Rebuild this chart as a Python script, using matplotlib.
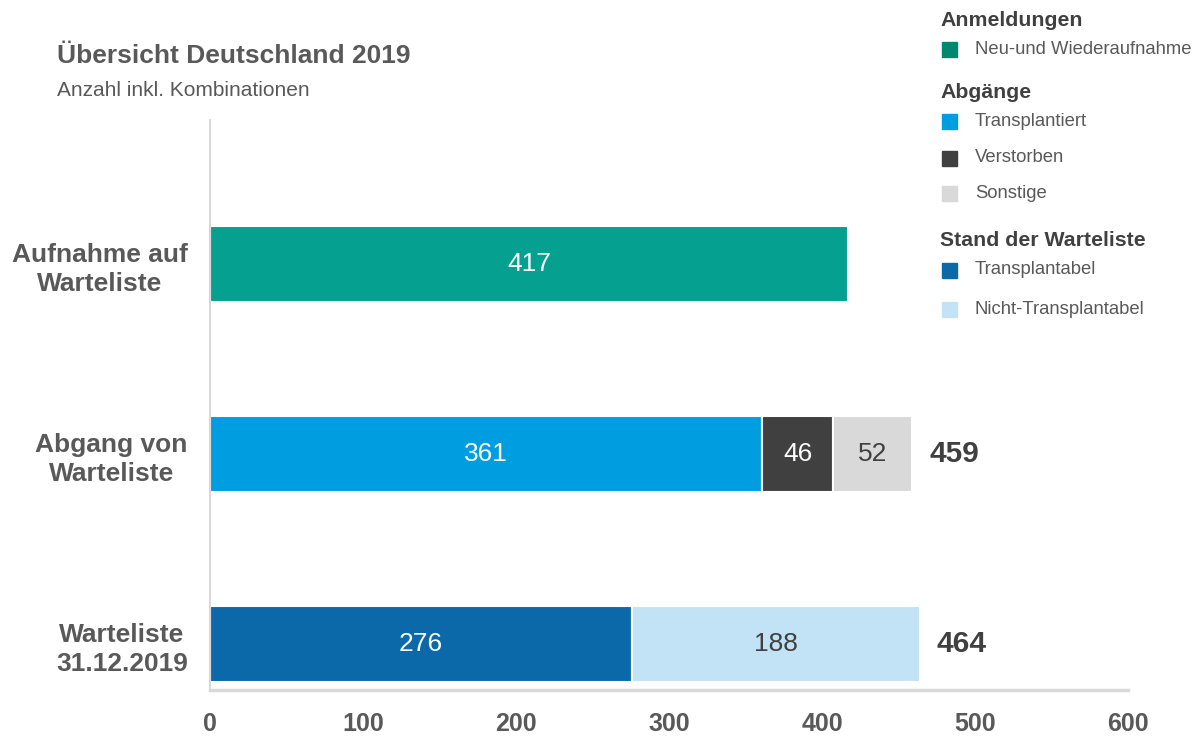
import matplotlib.pyplot as plt
from matplotlib.patches import Rectangle

plt.rcParams['font.family'] = ['Liberation Sans', 'DejaVu Sans']

# Data
categories = ['Aufnahme auf\nWarteliste', 'Abgang von\nWarteliste', 'Warteliste\n31.12.2019']
segments = [
    [417],
    [361, 46, 52],
    [276, 188],
]
seg_colors = [
    ['#06A091'],
    ['#009EE0', '#404040', '#D9D9D9'],
    ['#0B69AA', '#C2E2F5'],
]
label_colors = [
    ['white'],
    ['white', 'white', '#404040'],
    ['white', '#404040'],
]
totals = [None, 459, 464]
x_ticks = [0, 100, 200, 300, 400, 500, 600]

legend_groups = [
    ('Anmeldungen', [('Neu-und Wiederaufnahme', '#00876F')]),
    ('Abgänge', [('Transplantiert', '#009EE0'), ('Verstorben', '#404040'),
                 ('Sonstige', '#D9D9D9')]),
    ('Stand der Warteliste', [('Transplantabel', '#0B69AA'),
                              ('Nicht-Transplantabel', '#C2E2F5')]),
]

txt = '#595959'
W, H = 1200, 736
fig = plt.figure(figsize=(12, 7.36), dpi=100)
ax = fig.add_axes([210 / W, 46 / H, 918 / W, 570 / H])

for i, (vals, cols, lcols) in enumerate(zip(segments, seg_colors, label_colors)):
    left = 0
    for v, c, lc in zip(vals, cols, lcols):
        ax.barh(i, v, left=left, height=0.4, color=c, edgecolor='white', linewidth=1.5)
        ax.text(left + v / 2, i, str(v), ha='center', va='center', color=lc, fontsize=19)
        left += v
    if totals[i] is not None:
        ax.text(left + 11, i, str(totals[i]), ha='left', va='center',
                color='#404040', fontsize=21.5, fontweight='bold')

ax.set_xlim(0, 600)
ax.set_ylim(2.242, -0.758)
ax.set_xticks(x_ticks)
ax.set_xticklabels([str(t) for t in x_ticks], fontsize=18, fontweight='bold', color=txt)
ax.set_yticks(range(len(categories)))
ax.set_yticklabels(categories, fontsize=19, fontweight='bold', color=txt,
                   linespacing=1.3, multialignment='center')
ax.tick_params(axis='y', length=0, pad=16)
ax.tick_params(axis='x', length=0, pad=16)
for s in ['top', 'right']:
    ax.spines[s].set_visible(False)
ax.spines['left'].set_color('#D9D9D9')
ax.spines['bottom'].set_color('#D9D9D9')
ax.spines['left'].set_linewidth(1.5)
ax.spines['bottom'].set_linewidth(2.5)

# Title
fig.text(57 / W, 1 - 56 / H, 'Übersicht Deutschland 2019', fontsize=19, fontweight='bold',
         color=txt, va='center', ha='left')
fig.text(57 / W, 1 - 90 / H, 'Anzahl inkl. Kombinationen', fontsize=15,
         color=txt, va='center', ha='left')

# Legend
head_y = [20, 93, 240]
item_y = [[49], [121, 158, 193], [270, 309]]
for (head, items), hy, iys in zip(legend_groups, head_y, item_y):
    fig.text(940 / W, 1 - hy / H, head, fontsize=15.3, fontweight='bold', color='#404040',
             va='center', ha='left')
    for (lab, col), y in zip(items, iys):
        fig.patches.append(Rectangle((942 / W, 1 - (y + 8) / H), 15 / W, 15 / H,
                                     color=col, transform=fig.transFigure, figure=fig))
        fig.text(975 / W, 1 - y / H, lab, fontsize=13.3, color=txt, va='center', ha='left')

fig.savefig('out.png', dpi=100)
